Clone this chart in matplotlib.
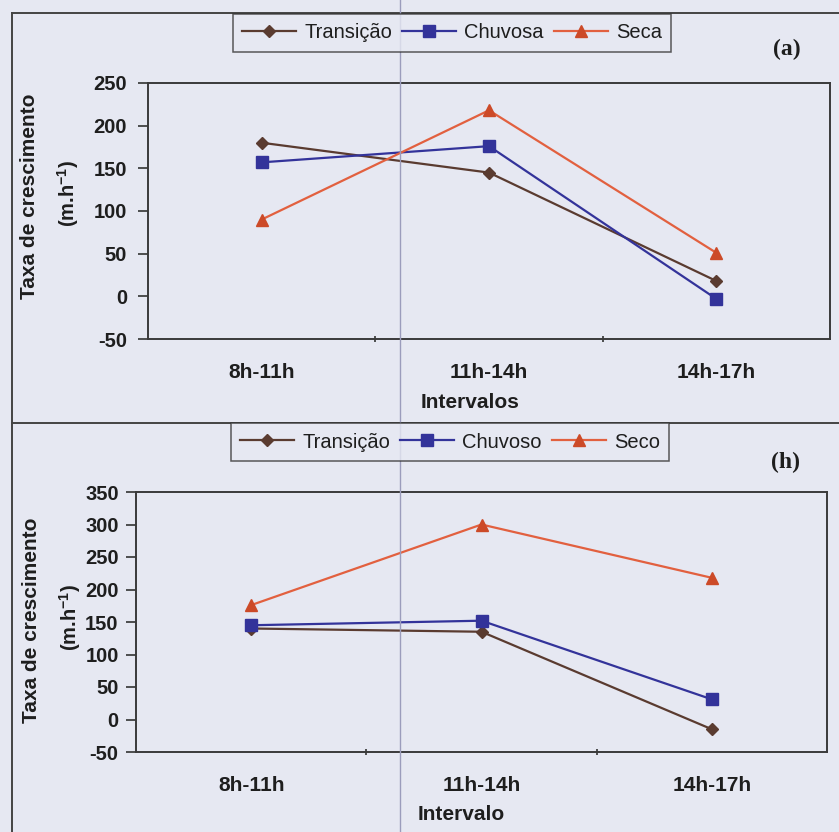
import matplotlib
matplotlib.use("Agg")
import matplotlib.pyplot as plt
from matplotlib.lines import Line2D

plt.rcParams['font.family'] = ['Liberation Sans', 'DejaVu Sans']
plt.rcParams['mathtext.fontset'] = 'custom'
plt.rcParams['mathtext.rm'] = 'Liberation Sans:bold'
plt.rcParams['mathtext.bf'] = 'Liberation Sans:bold'

# ---------------- data ----------------
categories = ["8h-11h", "11h-14h", "14h-17h"]

a_labels = ["Transição", "Chuvosa", "Seca"]
a_transicao = [180, 145, 18]
a_chuvosa = [157, 176, -3]
a_seca = [90, 218, 51]
a_yticks = [-50, 0, 50, 100, 150, 200, 250]

b_labels = ["Transição", "Chuvoso", "Seco"]
b_transicao = [140, 135, -15]
b_chuvoso = [145, 152, 31]
b_seco = [176, 300, 218]
b_yticks = [-50, 0, 50, 100, 150, 200, 250, 300, 350]

# ---------------- style ----------------
W, H = 839, 832
BG = "#e6e8f2"
C_TRANS = "#5a3b30"
C_CHUV = "#33339a"
C_SECA = "#e2603f"
C_SECA_M = "#cc4a28"

fig = plt.figure(figsize=(W / 100, H / 100), dpi=100, facecolor=BG)


def fx(px):
    return px / W


def fy(py):
    return 1 - py / H


def panel(box, series, labels, yticks, xlabel, tag, legbox, ylab_x, ylab_y, ypad):
    l, t, r, b = box
    ax = fig.add_axes([fx(l), fy(b), fx(r - l), (b - t) / H])
    ax.set_facecolor(BG)
    x = list(range(len(categories)))
    styles = [
        dict(color=C_TRANS, marker="D", markersize=6.5, markerfacecolor=C_TRANS, markeredgecolor=C_TRANS),
        dict(color=C_CHUV, marker="s", markersize=8, markerfacecolor=C_CHUV, markeredgecolor=C_CHUV),
        dict(color=C_SECA, marker="^", markersize=9, markerfacecolor=C_SECA_M, markeredgecolor=C_SECA_M),
    ]
    handles = []
    for vals, lab, st in zip(series, labels, styles):
        h, = ax.plot(x, vals, linewidth=1.6, label=lab, **st)
        handles.append(h)
    ax.set_xlim(-0.5, len(categories) - 0.5)
    ax.set_ylim(yticks[0], yticks[-1])
    ax.set_yticks(yticks)
    ax.set_yticklabels([str(v) for v in yticks], fontsize=14.5, fontweight="bold", color="#1e1e1e")
    ax.set_xticks(x)
    ax.set_xticklabels(categories, fontsize=15, fontweight="bold", color="#1e1e1e")
    ax.set_xticks([i + 0.5 for i in x[:-1]], minor=True)
    ax.tick_params(axis="x", which="major", length=0, pad=17)
    ax.tick_params(axis="x", which="minor", length=5, direction="inout", width=1.2, color="#333333")
    ax.tick_params(axis="y", length=7, width=1.2, direction="out", pad=ypad, color="#333333")
    for s in ax.spines.values():
        s.set_color("#3a3a3a")
        s.set_linewidth(1.4)
    # x label
    fig.text(fx(xlabel[1]), fy(xlabel[2]), xlabel[0], fontsize=15, fontweight="bold",
             ha="center", va="center", color="#1e1e1e")
    # y label (two lines)
    fig.text(fx(ylab_x[0]), fy(ylab_y), "Taxa de crescimento", rotation=90, fontsize=15,
             fontweight="bold", ha="center", va="center", color="#1e1e1e")
    fig.text(fx(ylab_x[1]), fy(ylab_y - 3), r"(m.h$^{-1}$)", rotation=90, fontsize=14.5,
             fontweight="bold", ha="center", va="center", color="#1e1e1e")
    # panel tag
    fig.text(fx(tag[1]), fy(tag[2]), tag[0], fontsize=17, fontweight="bold",
             family="Liberation Serif", ha="center", va="center", color="#1e1e1e")
    # legend
    leg = fig.legend(handles=handles, loc="center", ncol=3,
                     bbox_to_anchor=(fx(legbox[0]), fy(legbox[1])),
                     frameon=True, fancybox=False, edgecolor="#333333", facecolor=BG,
                     fontsize=14.5, handlelength=2.7, handletextpad=0.4, columnspacing=0.5,
                     borderpad=0.45, borderaxespad=0)
    leg.get_frame().set_linewidth(1.1)
    for txt in leg.get_texts():
        txt.set_color("#1e1e1e")
    return ax


panel((148, 83, 830, 339),
      [a_transicao, a_chuvosa, a_seca], a_labels, a_yticks,
      ("Intervalos", 470, 403), ("(a)", 787, 49), (452, 33), (30, 68), 196, 8)

panel((136, 492, 827, 752),
      [b_transicao, b_chuvoso, b_seco], b_labels, b_yticks,
      ("Intervalo", 461, 815), ("(h)", 785, 462), (450, 442), (32, 70), 620, 5.5)

# page frame lines from the scanned figure
fig.add_artist(Line2D([fx(12), fx(12)], [fy(13), fy(832)], color="#444444", linewidth=1.4))
fig.add_artist(Line2D([fx(12), fx(839)], [fy(13), fy(13)], color="#444444", linewidth=1.4))
fig.add_artist(Line2D([fx(12), fx(839)], [fy(423), fy(423)], color="#444444", linewidth=1.4))
fig.add_artist(Line2D([fx(400), fx(400)], [fy(0), fy(832)], color="#9b9cbc", linewidth=1.0))

fig.savefig("out.png", dpi=100, facecolor=BG)
